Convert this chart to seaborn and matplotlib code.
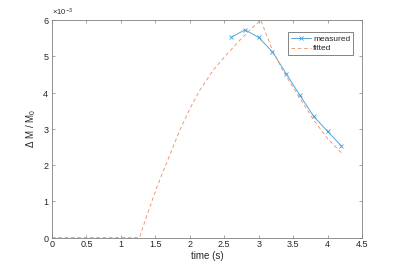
import numpy as np
import pandas as pd
import matplotlib
matplotlib.use("Agg")
import matplotlib.pyplot as plt
from matplotlib.ticker import ScalarFormatter
import seaborn as sns

# measured points
t_meas = [2.6, 2.8, 3.0, 3.2, 3.4, 3.6, 3.8, 4.0, 4.2]
dm_meas = [5.52e-3, 5.73e-3, 5.52e-3, 5.12e-3, 4.52e-3, 3.92e-3, 3.34e-3, 2.93e-3, 2.53e-3]

# fitted curve
t_fit = [0.0, 0.5, 1.0, 1.27, 1.37, 1.52, 1.71, 1.86, 2.0, 2.15, 2.34, 2.54, 2.73,
         2.87, 3.03, 3.2, 3.36, 3.6, 3.8, 4.0, 4.2]
dm_fit = [0.0, 0.0, 0.0, 0.0, 0.57e-3, 1.38e-3, 2.28e-3, 2.98e-3, 3.55e-3, 4.08e-3,
          4.62e-3, 5.06e-3, 5.45e-3, 5.72e-3, 6.0e-3, 5.17e-3, 4.57e-3, 3.84e-3,
          3.24e-3, 2.73e-3, 2.34e-3]

meas = pd.DataFrame({"t": t_meas, "dm": dm_meas})
fit = pd.DataFrame({"t": t_fit, "dm": dm_fit})

sns.set_theme(style="white")
plt.rcParams["font.family"] = ["Liberation Sans", "DejaVu Sans"]
plt.rcParams["mathtext.fontset"] = "custom"
plt.rcParams["mathtext.rm"] = "Liberation Sans"
plt.rcParams["mathtext.it"] = "Liberation Sans"

fig = plt.figure(figsize=(4, 2.67), dpi=100)
ax = fig.add_axes([0.13, 0.11, 0.775, 0.815])

blue = "#46a0dc"
orange = "#eb9670"

sns.lineplot(data=meas, x="t", y="dm", ax=ax, color=blue, lw=0.65, marker="x",
             markersize=3.5, markeredgewidth=0.6, markeredgecolor=blue, label="measured")
sns.lineplot(data=fit, x="t", y="dm", ax=ax, color=orange, lw=0.65,
             linestyle=(0, (4, 3)), label="fitted")

ax.set_xlim(0, 4.5)
ax.set_ylim(0, 6e-3)
ax.set_xticks(np.arange(0, 4.51, 0.5))
ax.set_xticklabels(["0", "0.5", "1", "1.5", "2", "2.5", "3", "3.5", "4", "4.5"])
ax.set_yticks(np.arange(0, 6.01e-3, 1e-3))

fmt = ScalarFormatter(useMathText=True)
fmt.set_powerlimits((-2, 2))
ax.yaxis.set_major_formatter(fmt)
ax.yaxis.get_offset_text().set_fontsize(5.5)
ax.yaxis.get_offset_text().set_color("#262626")

for s in ax.spines.values():
    s.set_color("#808080")
    s.set_linewidth(0.6)
ax.tick_params(direction="in", length=2.5, width=0.5, color="#808080",
               labelsize=6.5, labelcolor="#262626", top=True, right=True,
               bottom=True, left=True, pad=2)

ax.set_xlabel("time (s)", fontsize=7, color="#262626", labelpad=1)
ax.set_ylabel(r"$\Delta$ M / M$_0$", fontsize=7, color="#262626", labelpad=3)

leg = ax.legend(loc="upper right", fontsize=6, frameon=True, fancybox=False,
                borderpad=0.35, handlelength=2.4, handletextpad=0.2,
                labelspacing=0.25, bbox_to_anchor=(0.985, 0.965))
leg.get_frame().set_edgecolor("#262626")
leg.get_frame().set_linewidth(0.5)

fig.savefig("out.png", dpi=100)
